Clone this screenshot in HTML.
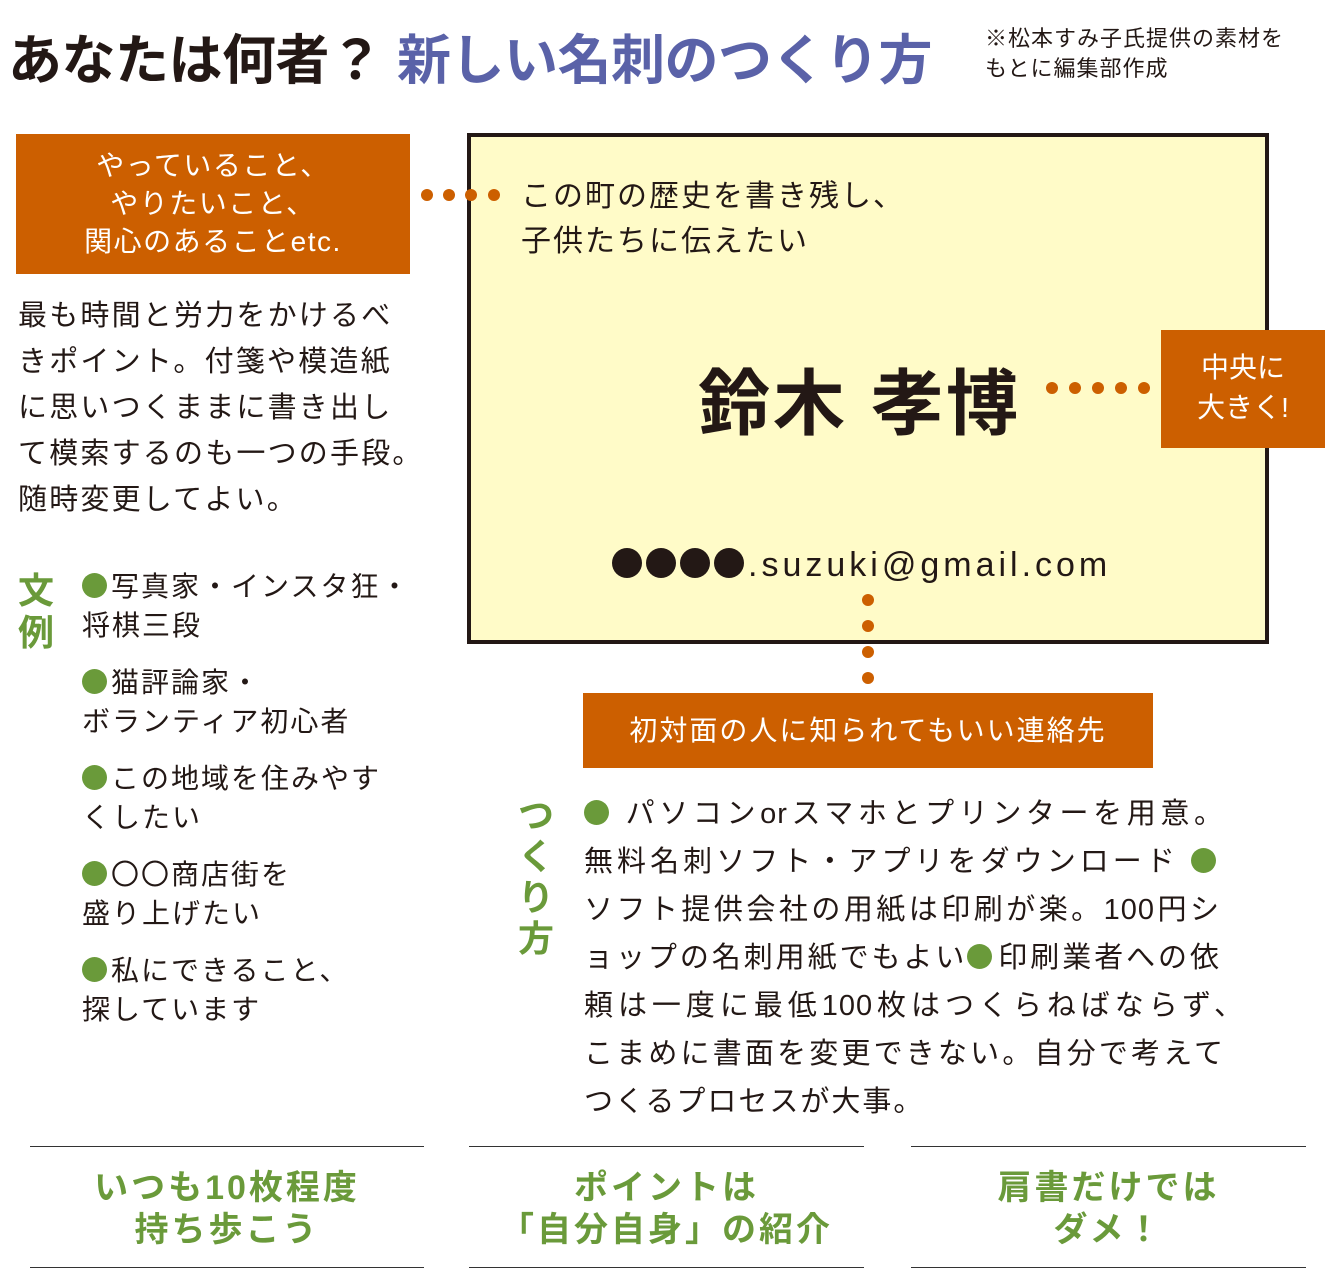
<!DOCTYPE html>
<html><head><meta charset="utf-8"><style>
body{margin:0;width:1340px;height:1281px;background:#fff;position:relative;overflow:hidden;font-family:"Liberation Sans","Noto Sans CJK JP",sans-serif;color:#231815}
.a{position:absolute;white-space:nowrap}
.ob{position:absolute;background:#cc5f00;color:#fff;text-align:center}
.d{position:absolute;width:12px;height:12px;border-radius:50%;background:#cc5f00}
.g{color:#6a9a3a}
.b{display:inline-block;width:25px;height:25px;border-radius:50%;background:#6a9a3a;vertical-align:-2px;margin-right:4px}
.k{display:inline-block;width:30px;height:30px;border-radius:50%;background:#231815;margin-right:4px;vertical-align:-2px}
.j{position:absolute;text-align:justify;text-align-last:justify;white-space:nowrap;overflow:visible}
.bt{position:absolute;border-top:1.5px solid #333;border-bottom:1.5px solid #333;height:122px;top:1146px;text-align:center;color:#6a9a3a;font-weight:bold;font-size:34px;line-height:42px;letter-spacing:3px;box-sizing:border-box;padding-top:20px}
</style></head><body>
<div class="a" style="left:8px;top:16px;font-size:54px;font-weight:bold;letter-spacing:-0.5px">あなたは何者？ <span style="color:#5a62a8">新しい名刺のつくり方</span></div>
<div class="a" style="left:985px;top:24px;font-size:22px;line-height:30px;letter-spacing:1px">※松本すみ子氏提供の素材を<br>もとに編集部作成</div>

<div class="ob" style="left:16px;top:134px;width:394px;height:140px;font-size:28px;line-height:38px;padding-top:13px;box-sizing:border-box;letter-spacing:1.5px">やっていること、<br>やりたいこと、<br>関心のあることetc.</div>
<div class="d" style="left:421px;top:189px"></div><div class="d" style="left:443px;top:189px"></div>

<div style="position:absolute;left:467px;top:133px;width:802px;height:511px;box-sizing:border-box;border:4px solid #231815;background:#fffbc8"></div>
<div class="d" style="left:465px;top:189px"></div><div class="d" style="left:488px;top:189px"></div>
<div class="a" style="left:521px;top:174px;font-size:30px;line-height:45px;letter-spacing:2px">この町の歴史を書き残し、<br>子供たちに伝えたい</div>
<div class="a" style="left:698px;top:345px;font-size:72px;font-weight:bold;letter-spacing:3px">鈴木 孝博</div>
<div class="d" style="left:1046px;top:382px"></div><div class="d" style="left:1069px;top:382px"></div><div class="d" style="left:1092px;top:382px"></div><div class="d" style="left:1115px;top:382px"></div><div class="d" style="left:1138px;top:382px"></div>
<div class="ob" style="left:1161px;top:330px;width:164px;height:118px;font-size:28px;line-height:40px;padding-top:18px;box-sizing:border-box">中央に<br>大きく!</div>
<div class="a" style="left:612px;top:546px;font-size:34px;letter-spacing:4px"><span class="k"></span><span class="k"></span><span class="k"></span><span class="k"></span>.suzuki@gmail.com</div>
<div class="d" style="left:862px;top:594px"></div><div class="d" style="left:862px;top:620px"></div><div class="d" style="left:862px;top:646px"></div><div class="d" style="left:862px;top:672px"></div>
<div class="ob" style="left:583px;top:693px;width:570px;height:75px;font-size:28px;line-height:75px;letter-spacing:2px">初対面の人に知られてもいい連絡先</div>

<div class="a" style="left:18px;top:293px;font-size:29px;line-height:46px;letter-spacing:2.2px">最も時間と労力をかけるべ<br>きポイント。付箋や模造紙<br>に思いつくままに書き出し<br>て模索するのも一つの手段。<br>随時変更してよい。</div>

<div class="a g" style="left:18px;top:570px;font-size:36px;font-weight:bold;line-height:42px">文<br>例</div>
<div class="a" style="left:82px;top:567px;font-size:28px;line-height:39px;letter-spacing:2px">
<div><span class="b"></span>写真家・インスタ狂・<br>将棋三段</div>
<div style="margin-top:18px"><span class="b"></span>猫評論家・<br>ボランティア初心者</div>
<div style="margin-top:18px"><span class="b"></span>この地域を住みやす<br>くしたい</div>
<div style="margin-top:18px"><span class="b"></span>〇〇商店街を<br>盛り上げたい</div>
<div style="margin-top:18px"><span class="b"></span>私にできること、<br>探しています</div>
</div>

<div class="a g" style="left:518px;top:795px;font-size:36px;font-weight:bold;line-height:41px">つ<br>く<br>り<br>方</div>
<div style="position:absolute;left:584px;top:790px;font-size:29px;line-height:48px;letter-spacing:1px">
<div class="j" style="position:relative;width:640px"><span class="b"></span> パソコンorスマホとプリンターを用意。</div>
<div class="j" style="position:relative;width:636px">無料名刺ソフト・アプリをダウンロード <span class="b"></span></div>
<div class="j" style="position:relative;width:636px">ソフト提供会社の用紙は印刷が楽。100円シ</div>
<div class="j" style="position:relative;width:636px">ョップの名刺用紙でもよい<span class="b"></span>印刷業者への依</div>
<div class="j" style="position:relative;width:660px">頼は一度に最低100枚はつくらねばならず、</div>
<div class="j" style="position:relative;width:640px">こまめに書面を変更できない。自分で考えて</div>
<div style="position:relative;letter-spacing:2px">つくるプロセスが大事。</div>
</div>

<div class="bt" style="left:30px;width:394px">いつも10枚程度<br>持ち歩こう</div>
<div class="bt" style="left:469px;width:395px">ポイントは<br>「自分自身」の紹介</div>
<div class="bt" style="left:911px;width:395px">肩書だけでは<br>ダメ！</div>
</body></html>
